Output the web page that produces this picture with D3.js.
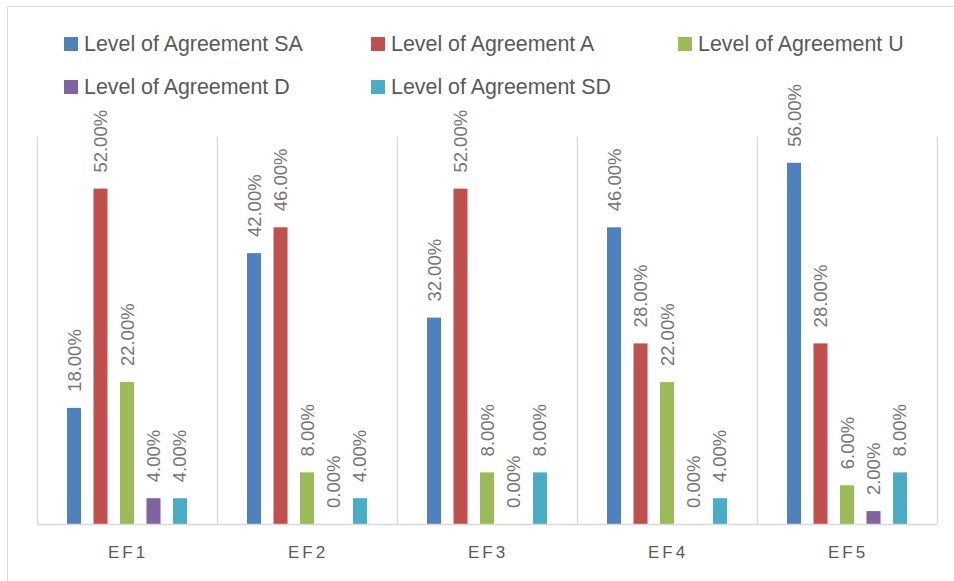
<!DOCTYPE html>
<html><head><meta charset="utf-8">
<script src="https://cdn.jsdelivr.net/npm/d3@7"></script>
<style>body{margin:0;background:#fff}svg{display:block}text{font-family:"Liberation Sans",Arial,sans-serif;fill:#595959}</style>
</head><body>
<svg id="c" width="954" height="581"></svg>
<script>
const categories = ["EF1","EF2","EF3","EF4","EF5"];
const seriesNames = ["Level of Agreement SA","Level of Agreement A","Level of Agreement U","Level of Agreement D","Level of Agreement SD"];
const valuesSA = [0.18,0.42,0.32,0.46,0.56];
const valuesA  = [0.52,0.46,0.52,0.28,0.28];
const valuesU  = [0.22,0.08,0.08,0.22,0.06];
const valuesD  = [0.04,0.00,0.00,0.00,0.02];
const valuesSD = [0.04,0.04,0.08,0.04,0.08];
const colors = ["#4f81bd","#c0504d","#9bbb59","#8064a2","#4bacc6"];
const seriesValues = [valuesSA,valuesA,valuesU,valuesD,valuesSD];

const svg = d3.select("#c");
// frame
svg.append("line").attr("x1",7.5).attr("x2",7.5).attr("y1",6.5).attr("y2",581).attr("stroke","#d9d9d9");
svg.append("line").attr("x1",7.5).attr("x2",954).attr("y1",6.5).attr("y2",6.5).attr("stroke","#d9d9d9");

const x0 = d3.scaleBand().domain(categories).range([37,937]).paddingInner(0).paddingOuter(0);
const x1 = d3.scaleBand().domain(seriesNames).range([30,150]).paddingInner(0.47).paddingOuter(0);
const y = d3.scaleLinear().domain([0,0.6]).range([524,137]);

// vertical gridlines at category boundaries
const bounds = categories.map(c=>x0(c)).concat([x0.range()[1]]);
svg.selectAll("line.grid").data(bounds).join("line").attr("class","grid")
  .attr("x1",d=>Math.round(d)+0.5).attr("x2",d=>Math.round(d)+0.5)
  .attr("y1",y(0.6)).attr("y2",y(0)).attr("stroke","#d9d9d9").attr("stroke-width",1.3);

// bars
seriesNames.forEach((s,si)=>{
  const g = svg.append("g");
  g.selectAll("rect").data(seriesValues[si]).join("rect")
    .attr("x",(d,i)=>x0(categories[i])+x1(s))
    .attr("width",x1.bandwidth())
    .attr("y",d=>y(d))
    .attr("height",d=>y(0)-y(d))
    .attr("fill",colors[si]);
  g.selectAll("text").data(seriesValues[si]).join("text")
    .attr("transform",(d,i)=>`translate(${x0(categories[i])+x1(s)+x1.bandwidth()/2},${y(d)-16}) rotate(-90)`)
    .attr("dominant-baseline","central")
    .attr("font-size",18.5)
    .style("fill","#757575")
    .text(d=>d3.format(".2%")(d));
});

// baseline
svg.append("line").attr("x1",37).attr("x2",937).attr("y1",524.5).attr("y2",524.5).attr("stroke","#d9d9d9").attr("stroke-width",1.3);

// x axis labels
const xAxis = d3.axisBottom(x0).tickSize(0).tickPadding(0);
const ax = svg.append("g").attr("transform","translate(0,552)").call(xAxis);
ax.select(".domain").remove();
ax.selectAll("text").attr("font-size",17).attr("dy","0.35em").attr("font-family","Liberation Sans, Arial, sans-serif")
  .style("letter-spacing","3px").style("fill","#595959").attr("dx","1px");

// legend
const legX = [64,371,678];
const legY = [44,87];
const leg = svg.append("g");
seriesNames.forEach((s,i)=>{
  const lx = legX[i%3], ly = legY[Math.floor(i/3)];
  leg.append("rect").attr("x",lx).attr("y",ly-7).attr("width",14).attr("height",14).attr("fill",colors[i]);
  leg.append("text").attr("x",lx+20).attr("y",ly).attr("dominant-baseline","central").attr("font-size",21.4).text(s);
});
</script>
</body></html>
